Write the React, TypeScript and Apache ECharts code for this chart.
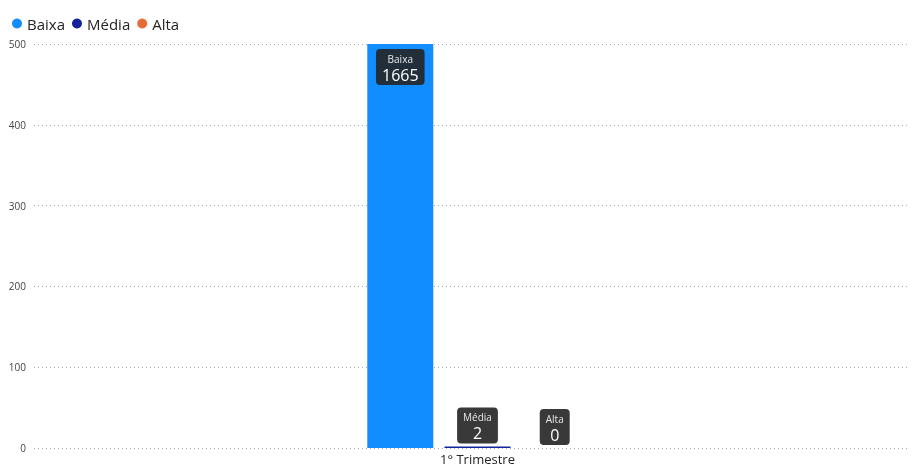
import React, { useEffect, useRef } from "react";
import * as echarts from "echarts";

const categories = ["1° Trimestre"];
const seriesNames = ["Baixa", "Média", "Alta"];
const baixaValues = [1665];
const mediaValues = [2];
const altaValues = [0];
const seriesColors = ["#118DFF", "#12239E", "#E66C37"];
const yTicks = [0, 100, 200, 300, 400, 500];

const FONT = "'Segoe UI', 'Open Sans', sans-serif";

export default function App() {
  const ref = useRef<HTMLDivElement>(null);
  useEffect(() => {
    if (!ref.current) return;
    const chart = echarts.init(ref.current, undefined, { renderer: "svg" });
    const yMin = yTicks[0];
    const yMax = yTicks[yTicks.length - 1];
    const interval = yTicks[1] - yTicks[0];
    const allValues = [baixaValues, mediaValues, altaValues];
    const makeLabel = (pos: string, dist: number) => ({
      show: true,
      position: pos,
      distance: dist,
      formatter: (p: any) => `{n|${p.seriesName}}\n{v|${p.value}}`,
      backgroundColor: "rgba(37,36,35,0.9)",
      borderRadius: 4,
      padding: [2, 6, 1, 6],
      rich: {
        n: { fontSize: 10, color: "#e8e8e8", fontFamily: FONT, lineHeight: 15, align: "center" },
        v: { fontSize: 16, color: "#ffffff", fontFamily: FONT, lineHeight: 18, align: "center" },
      },
    });
    chart.setOption({
      animation: false,
      textStyle: { fontFamily: FONT },
      legend: {
        data: seriesNames,
        left: 7,
        top: 11,
        icon: "circle",
        itemWidth: 10,
        itemHeight: 10,
        itemGap: 7,
        textStyle: { fontSize: 15, color: "#252423", fontFamily: FONT },
      },
      grid: [
        { left: 34, right: 4, top: 44, bottom: 18, containLabel: false, outerBoundsMode: "none" },
        { left: 41, right: 0, top: 44, bottom: 18, containLabel: false, outerBoundsMode: "none" },
      ],
      xAxis: [
        {
          type: "category",
          gridIndex: 0,
          data: categories,
          show: false,
        },
        {
          type: "category",
          gridIndex: 1,
          data: categories,
          axisLine: { show: false },
          axisTick: { show: false },
          axisLabel: { fontSize: 13, lineHeight: 13, color: "#252423", margin: 4, fontFamily: FONT },
        },
      ],
      yAxis: [
        {
          type: "value",
          gridIndex: 0,
          min: yMin,
          max: yMax,
          interval,
          axisLine: { show: false },
          axisTick: { show: false },
          axisLabel: { fontSize: 10, color: "#444", margin: 8, fontFamily: FONT },
          splitLine: { lineStyle: { type: [1, 3], color: "#aaa", width: 1 } },
        },
        {
          type: "value",
          gridIndex: 1,
          min: yMin,
          max: yMax,
          interval,
          show: false,
          splitLine: { show: false },
        },
      ],
      series: seriesNames.map((name, i) => ({
        name,
        type: "bar",
        xAxisIndex: 1,
        yAxisIndex: 1,
        data: allValues[i],
        barWidth: 66,
        barGap: "17%",
        clip: true,
        itemStyle: { color: seriesColors[i] },
        label: i === 0 ? makeLabel("insideTop", 5) : makeLabel("top", 3),
      })),
    });
    return () => chart.dispose();
  }, []);
  return (
    <div
      ref={ref}
      style={{ position: "fixed", left: 0, top: 0, width: 914, height: 466 }}
    />
  );
}
